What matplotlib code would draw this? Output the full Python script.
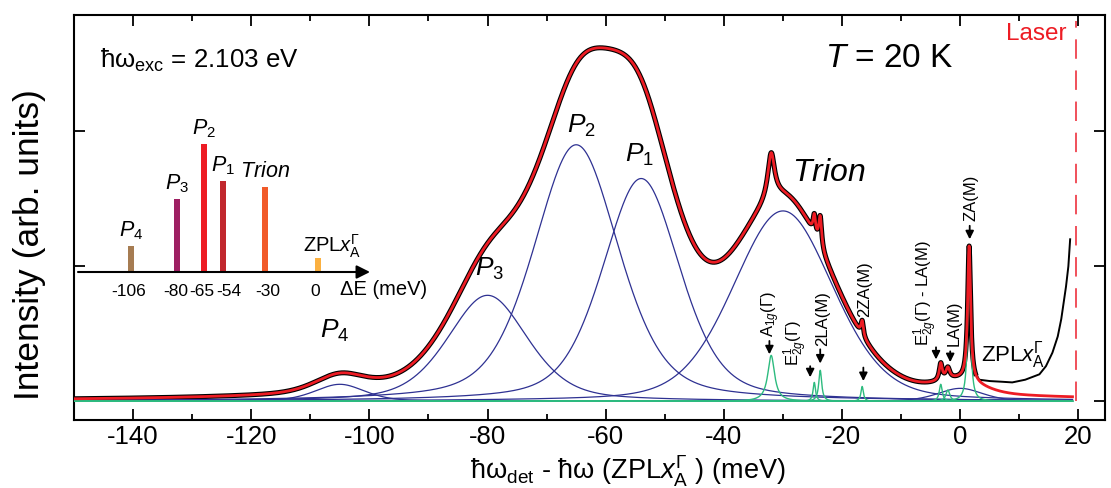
import numpy as np
import matplotlib
matplotlib.use("Agg")
import matplotlib.pyplot as plt

plt.rcParams["font.family"] = ["Liberation Sans", "DejaVu Sans"]
plt.rcParams["mathtext.fontset"] = "custom"
plt.rcParams["mathtext.rm"] = "Liberation Sans"
plt.rcParams["mathtext.it"] = "Liberation Sans:italic"
plt.rcParams["mathtext.bf"] = "Liberation Sans:bold"
plt.rcParams["axes.unicode_minus"] = False

# broad emission bands (blue): centre (meV), height, FWHM (meV), lorentz fraction
band_center = [-105, -80, -65, -54, -30, 0]
band_height = [0.126, 0.785, 1.90, 1.65, 1.41, 0.096]
band_fwhm = [10, 16, 17, 15.5, 20, 9]
band_eta = [0.4, 0.4, 0.4, 0.4, 0.25, 0.4]

# phonon assisted lines (green)
phonon_center = [-32.0, -24.7, -23.7, -16.6, -3.3, -2.1, 1.5]
phonon_height = [0.34, 0.14, 0.23, 0.11, 0.126, 0.084, 1.0]
phonon_fwhm = [1.4, 0.5, 0.6, 0.5, 0.6, 0.8, 0.6]

# measured spectrum where it leaves the fit (rise towards the laser)
tail_x = [2.6, 3.2, 5.0, 7.0, 8.8, 11.0, 13.4, 14.5, 15.6, 16.5, 17.1, 17.9, 18.3, 18.6]
tail_y = [0.21, 0.16, 0.15, 0.145, 0.14, 0.16, 0.20, 0.26, 0.36, 0.48, 0.61, 0.85, 1.0, 1.2]

laser_x = 19.6

# inset: peak positions and relative intensities
inset_dE = [-106, -80, -65, -54, -30, 0]
inset_int = [0.20, 0.57, 1.0, 0.71, 0.66, 0.11]
inset_colors = ["#a67c52", "#9e1f63", "#ed1c24", "#c1272d", "#f15a29", "#fbb040"]
inset_names = [r"$\mathit{P}_{4}$", r"$\mathit{P}_{3}$", r"$\mathit{P}_{2}$",
               r"$\mathit{P}_{1}$", r"$\mathit{Trion}$", r"ZPL$\mathit{x}_{\mathrm{A}}^{\Gamma}$"]

BLUE = "#2e3192"
GREEN = "#2dbb7f"
RED = "#ed1c24"


def pvoigt(x, c, a, w, eta):
    g = np.exp(-4 * np.log(2) * (x - c) ** 2 / w ** 2)
    l = 1 / (1 + 4 * (x - c) ** 2 / w ** 2)
    return a * ((1 - eta) * g + eta * l)


x = np.linspace(-150, 19.0, 6000)
bands = [pvoigt(x, c, a, w, e) for c, a, w, e in zip(band_center, band_height, band_fwhm, band_eta)]
phonons = [pvoigt(x, c, a, w, 1.0) for c, a, w in zip(phonon_center, phonon_height, phonon_fwhm)]
fit = np.sum(bands, axis=0) + np.sum(phonons, axis=0)

fig = plt.figure(figsize=(11.11, 4.89), dpi=100)
ax = fig.add_axes([0.0666, 0.140, 0.9280, 0.827])

# measured data (black) under the fit
m = x <= tail_x[0]
ax.plot(x[m], fit[m], color="black", lw=3.6, zorder=2)
ax.plot(tail_x, tail_y, color="black", lw=1.4, zorder=2)

for b in bands:
    ax.plot(x, b, color=BLUE, lw=0.9, zorder=3)
for p in phonons:
    ax.plot(x, p, color=GREEN, lw=1.0, zorder=4)
ax.plot(x, fit, color=RED, lw=2.0, zorder=5)

ax.axvline(laser_x, ymin=0.045, ymax=0.985, color="#f0505a", lw=1.4, dashes=(10, 6))
ax.text(0.963, 0.955, "Laser", color=RED, fontsize=17.5, transform=ax.transAxes,
        ha="right", va="center")

ax.set_xlim(-150, 24.5)
ax.set_ylim(-0.135, 2.86)
ax.set_xticks(np.arange(-140, 21, 20))
ax.set_xticks(np.arange(-150, 21, 10), minor=True)
ax.set_yticks([0, 1, 2])
ax.set_yticklabels([])
ax.tick_params(which="both", direction="in", top=True, right=True, width=1.3)
ax.tick_params(which="major", length=8, labelsize=18.5, pad=3)
ax.tick_params(which="minor", length=4)
for s in ax.spines.values():
    s.set_linewidth(1.5)

ax.text(-0.043, 0.436, "Intensity (arb. units)", rotation=90, fontsize=25.5,
        transform=ax.transAxes, ha="center", va="center")
ax.text(0.537, -0.146, r"ħω$_{\mathrm{det}}$ - ħω (ZPL$\mathit{x}_{\mathrm{A}}^{\Gamma}$ ) (meV)",
        fontsize=19.5, transform=ax.transAxes, ha="center", va="baseline")

ax.text(0.025, 0.873, r"ħω$_{\mathrm{exc}}$ = 2.103 eV", fontsize=18.6,
        transform=ax.transAxes, ha="left", va="baseline")
ax.text(0.728, 0.873, r"$\mathit{T}$ = 20 K", fontsize=24,
        transform=ax.transAxes, ha="left", va="baseline")

# peak labels
for lab, px, py, fs in [(r"$\mathit{P}_{4}$", -105.9, 0.53, 19), (r"$\mathit{P}_{3}$", -79.7, 0.99, 19),
                        (r"$\mathit{P}_{2}$", -64.1, 2.05, 19), (r"$\mathit{P}_{1}$", -54.3, 1.83, 19),
                        (r"$\mathit{Trion}$", -22.2, 1.70, 23)]:
    ax.text(px, py, lab, fontsize=fs, ha="center", va="center")

# phonon labels with arrows
phonon_labels = [
    (r"A$_{1g}$(Γ)", -32.0, 0.48, -32.3, 0.447, 0.348),
    (r"E$^{1}_{2g}$(Γ)", -27.8, 0.267, -25.4, 0.26, 0.178),
    (r"2LA(M)", -23.3, 0.42, -23.7, 0.385, 0.28),
    (r"2ZA(M)", -16.2, 0.63, -16.4, 0.25, 0.15),
    (r"E$^{1}_{2g}$(Γ) - LA(M)", -5.8, 0.42, -4.1, 0.40, 0.31),
    (r"LA(M)", -1.0, 0.42, -1.7, 0.37, 0.29),
    (r"ZA(M)", 1.9, 1.34, 1.6, 1.30, 1.20),
]
for lab, tx, ty, axx, a0, a1 in phonon_labels:
    ax.text(tx, ty, lab, rotation=90, fontsize=12, ha="center", va="bottom")
    ax.annotate("", xy=(axx, a1), xytext=(axx, a0),
                arrowprops=dict(arrowstyle="-|>", color="black", lw=1.3,
                                mutation_scale=12, shrinkA=0, shrinkB=0))

ax.text(3.55, 0.35, r"ZPL$\mathit{x}_{\mathrm{A}}^{\Gamma}$", fontsize=16,
        ha="left", va="center")

# inset
axi = fig.add_axes([78 / 1111, (489 - 273) / 489, 292 / 1111, 153 / 489])
axi.set_xlim(-136.1, 29.3)
axi.set_ylim(0, 1.195)
axi.axis("off")
axi.bar(inset_dE, inset_int, width=3.4, color=inset_colors, zorder=2)
axi.annotate("", xy=(1.0, 0), xytext=(0, 0), xycoords="axes fraction",
             arrowprops=dict(arrowstyle="-|>", color="black", lw=1.5,
                             mutation_scale=20, shrinkA=0, shrinkB=0))
label_nudge = {-106: -2, -80: -1, -65: -1, -54: 4, -30: 2, 0: -2}
for d, h, name in zip(inset_dE, inset_int, inset_names):
    axi.annotate(str(d), xy=(d, 0), xytext=(label_nudge[d], -13), textcoords="offset points",
                 ha="center", va="center", fontsize=12.5)
    if name.startswith("ZPL"):
        axi.annotate(name, xy=(d, h), xytext=(10, 9), textcoords="offset points",
                     ha="center", va="center", fontsize=14.5)
    else:
        axi.annotate(name, xy=(d, h), xytext=(0, 12), textcoords="offset points",
                     ha="center", va="center", fontsize=15.5)
axi.text(1.195, -0.11, "ΔE (meV)", transform=axi.transAxes, fontsize=14.5,
         ha="right", va="center")

fig.savefig("out.png", dpi=100)
